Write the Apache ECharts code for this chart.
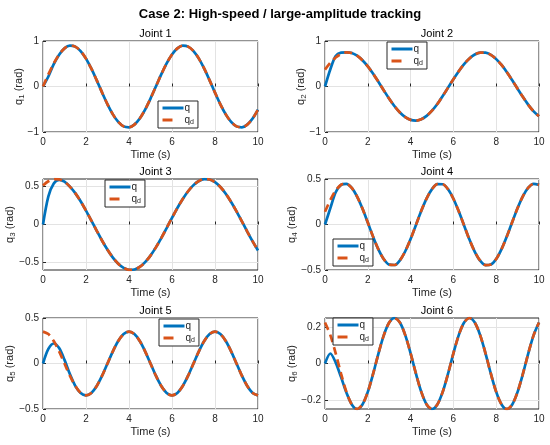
<!DOCTYPE html>
<html><head><meta charset="utf-8">
<script src="https://cdn.jsdelivr.net/npm/echarts@6/dist/echarts.min.js"></script>
<style>html,body{margin:0;padding:0;background:#fff}#c{width:550px;height:445px}</style>
</head><body><div id="c"></div>
<script>
// ---- data ----
const t = [0,0.25,0.5,0.75,1,1.25,1.5,1.75,2,2.25,2.5,2.75,3,3.25,3.5,3.75,4,4.25,4.5,4.75,5,5.25,5.5,5.75,6,6.25,6.5,6.75,7,7.25,7.5,7.75,8,8.25,8.5,8.75,9,9.25,9.5,9.75,10];

const qd1 = [0,0.265,0.507,0.704,0.838,0.897,0.877,0.779,0.612,0.391,0.134,-0.134,-0.391,-0.612,-0.779,-0.877,-0.897,-0.838,-0.704,-0.507,-0.265,0,0.265,0.507,0.704,0.838,0.897,0.877,0.779,0.612,0.391,0.134,-0.134,-0.391,-0.612,-0.779,-0.877,-0.897,-0.838,-0.704,-0.507];
const q1  = [0,0.22,0.49,0.70,0.838,0.897,0.877,0.779,0.612,0.391,0.134,-0.134,-0.391,-0.612,-0.779,-0.877,-0.897,-0.838,-0.704,-0.507,-0.265,0,0.265,0.507,0.704,0.838,0.897,0.877,0.779,0.612,0.391,0.134,-0.134,-0.391,-0.612,-0.779,-0.877,-0.897,-0.838,-0.704,-0.507];

const qd2 = [0.370,0.520,0.637,0.715,0.749,0.736,0.678,0.578,0.442,0.279,0.099,-0.087,-0.269,-0.434,-0.571,-0.672,-0.733,-0.749,-0.719,-0.645,-0.531,-0.385,-0.210,-0.025,0.161,0.337,0.492,0.616,0.703,0.746,0.743,0.694,0.602,0.473,0.314,0.136,-0.050,-0.233,-0.403,-0.547,-0.655];
const q2  = [0,0.38,0.67,0.745,0.752,0.738,0.678,0.578,0.442,0.279,0.099,-0.087,-0.269,-0.434,-0.571,-0.672,-0.733,-0.749,-0.719,-0.645,-0.531,-0.385,-0.210,-0.025,0.161,0.337,0.492,0.616,0.703,0.746,0.743,0.694,0.602,0.473,0.314,0.136,-0.050,-0.233,-0.403,-0.547,-0.655];

const qd3 = [0.515,0.570,0.598,0.595,0.562,0.500,0.414,0.306,0.183,0.051,-0.083,-0.214,-0.333,-0.436,-0.517,-0.572,-0.598,-0.594,-0.560,-0.497,-0.410,-0.302,-0.179,-0.047,0.088,0.218,0.337,0.439,0.519,0.573,0.598,0.593,0.558,0.495,0.406,0.297,0.174,0.041,-0.093,-0.223,-0.342];
const q3  = [0,0.37,0.54,0.588,0.565,0.500,0.414,0.306,0.183,0.051,-0.083,-0.214,-0.333,-0.436,-0.517,-0.572,-0.598,-0.594,-0.560,-0.497,-0.410,-0.302,-0.179,-0.047,0.088,0.218,0.337,0.439,0.519,0.573,0.598,0.593,0.558,0.495,0.406,0.297,0.174,0.041,-0.093,-0.223,-0.342];

const qd4 = [0.14,0.27,0.373,0.437,0.447,0.402,0.307,0.175,0.021,-0.136,-0.276,-0.382,-0.441,-0.445,-0.394,-0.294,-0.160,-0.005,0.151,0.288,0.389,0.444,0.442,0.387,0.283,0.145,-0.011,-0.166,-0.300,-0.398,-0.446,-0.439,-0.378,-0.270,-0.130,0.027,0.181,0.312,0.405,0.447,0.435];
const q4  = [0,0.18,0.355,0.435,0.447,0.402,0.307,0.175,0.021,-0.136,-0.276,-0.382,-0.441,-0.445,-0.394,-0.294,-0.160,-0.005,0.151,0.288,0.389,0.444,0.442,0.387,0.283,0.145,-0.011,-0.166,-0.300,-0.398,-0.446,-0.439,-0.378,-0.270,-0.130,0.027,0.181,0.312,0.405,0.447,0.435];

const qd5 = [0.35,0.323,0.247,0.134,0,-0.134,-0.247,-0.323,-0.35,-0.323,-0.247,-0.134,0,0.134,0.247,0.323,0.35,0.323,0.247,0.134,0,-0.134,-0.247,-0.323,-0.35,-0.323,-0.247,-0.134,0,0.134,0.247,0.323,0.35,0.323,0.247,0.134,0,-0.134,-0.247,-0.323,-0.35];
const q5  = [0,0.16,0.22,0.17,0.04,-0.115,-0.245,-0.323,-0.35,-0.323,-0.247,-0.134,0,0.134,0.247,0.323,0.35,0.323,0.247,0.134,0,-0.134,-0.247,-0.323,-0.35,-0.323,-0.247,-0.134,0,0.134,0.247,0.323,0.35,0.323,0.247,0.134,0,-0.134,-0.247,-0.323,-0.35];

const qd6 = [0.225,0.156,0.056,-0.056,-0.156,-0.225,-0.25,-0.225,-0.156,-0.056,0.056,0.156,0.225,0.25,0.225,0.156,0.056,-0.056,-0.156,-0.225,-0.25,-0.225,-0.156,-0.056,0.056,0.156,0.225,0.25,0.225,0.156,0.056,-0.056,-0.156,-0.225,-0.25,-0.225,-0.156,-0.056,0.056,0.156,0.225];
const q6  = [0,0.055,0.005,-0.075,-0.16,-0.225,-0.25,-0.225,-0.156,-0.056,0.056,0.156,0.225,0.25,0.225,0.156,0.056,-0.056,-0.156,-0.225,-0.25,-0.225,-0.156,-0.056,0.056,0.156,0.225,0.25,0.225,0.156,0.056,-0.056,-0.156,-0.225,-0.25,-0.225,-0.156,-0.056,0.056,0.156,0.225];

const jointTitles = ['Joint 1','Joint 2','Joint 3','Joint 4','Joint 5','Joint 6'];
const yMinVals = [-1,-1,-0.6,-0.5,-0.5,-0.25];
const yMaxVals = [1,1,0.6,0.5,0.5,0.25];
const yTickVals = [[-1,0,1],[-1,0,1],[-0.5,0,0.5],[-0.5,0,0.5],[-0.5,0,0.5],[-0.2,0,0.2]];
const mainTitle = 'Case 2: High-speed / large-amplitude tracking';

const qAll = [q1,q2,q3,q4,q5,q6];
const qdAll = [qd1,qd2,qd3,qd4,qd5,qd6];

// ---- layout ----
const FONT = '"Liberation Sans", Arial, Helvetica, sans-serif';
const TXT = '#262626';
const gridPos = [[43,41],[325,41],[43,179],[325,179],[43,318],[325,318]];
const gridW = [215,214];
const gridH = 91;
const yNameGaps = [17,17,26,26,26,26];
const legendPos = [[158,101],[387,42],[105,180],[333,239],[159,319],[333,318]];
const BLUE = '#0072BD', ORANGE = '#D95319';

const fmt = v => (Math.abs(v) < 1e-9 ? '0' : String(v).replace('-', '\u2212'));
const pairs = (xs, ys) => xs.map((x, i) => [x, ys[i]]);

const grids = [], xAxes = [], yAxes = [], series = [], legends = [];
const titles = [{
  text: mainTitle, left: 275, top: 3, textAlign: 'center',
  textStyle: {fontFamily: FONT, fontSize: 13, fontWeight: 'bold', color: '#000'}
}];

for (let i = 0; i < 6; i++) {
  const [gl, gt] = gridPos[i];
  const gw = gridW[i % 2];
  grids.push({left: gl, top: gt, width: gw, height: gridH, show: true,
    borderColor: TXT, borderWidth: 1, backgroundColor: '#fff', containLabel: false});
  titles.push({text: jointTitles[i], left: gl + gw / 2, top: gt - 18, textAlign: 'center',
    textStyle: {fontFamily: FONT, fontSize: 11, fontWeight: 'normal', color: '#000'}});
  xAxes.push({
    type: 'value', gridIndex: i, min: 0, max: 10, interval: 2,
    name: 'Time (s)', nameLocation: 'middle', nameGap: 17, nameMoveOverlap: false,
    nameTextStyle: {fontFamily: FONT, fontSize: 11, color: TXT},
    axisLine: {show: false},
    axisTick: {show: true, inside: true, length: 3, lineStyle: {color: TXT}},
    axisLabel: {fontFamily: FONT, fontSize: 10, color: TXT, margin: 5, formatter: fmt},
    splitLine: {show: true, lineStyle: {color: '#e3e3e3', width: 1}}
  });
  yAxes.push({
    type: 'value', gridIndex: i, min: yMinVals[i], max: yMaxVals[i],
    name: '{m|q}{s|' + (i + 1) + '}{m| (rad)}', nameLocation: 'middle', nameGap: yNameGaps[i], nameRotate: 90,
    nameMoveOverlap: false,
    nameTextStyle: {fontFamily: FONT, fontSize: 11, color: TXT,
      rich: {m: {fontFamily: FONT, fontSize: 11, color: TXT},
             s: {fontFamily: FONT, fontSize: 8, color: TXT, verticalAlign: 'bottom', padding: [6, 0, 0, 0]}}},
    axisLine: {show: false},
    axisTick: {show: true, inside: true, length: 3, lineStyle: {color: TXT}, customValues: yTickVals[i]},
    axisLabel: {fontFamily: FONT, fontSize: 10, color: TXT, margin: 4, formatter: fmt, customValues: yTickVals[i]},
    splitLine: {show: true, lineStyle: {color: '#e3e3e3', width: 1}}
  });
  series.push({
    type: 'line', name: 'q', xAxisIndex: i, yAxisIndex: i, data: pairs(t, qAll[i]),
    symbol: 'none', showSymbol: false, smooth: 0.3, z: 3,
    lineStyle: {color: BLUE, width: 2.7}, itemStyle: {color: BLUE}
  });
  series.push({
    type: 'line', name: 'q_d', xAxisIndex: i, yAxisIndex: i, data: pairs(t, qdAll[i]),
    symbol: 'none', showSymbol: false, smooth: 0.3, z: 4,
    lineStyle: {color: ORANGE, width: 2.7, type: [8, 5]}, itemStyle: {color: ORANGE}
  });
  legends.push({
    data: [
      {name: 'q', lineStyle: {color: BLUE, width: 3, type: 'solid'}},
      {name: 'q_d', lineStyle: {color: ORANGE, width: 3, type: [10, 12]}}
    ],
    left: legendPos[i][0], top: legendPos[i][1], orient: 'vertical',
    itemWidth: 21, itemHeight: 10, itemGap: 2, padding: [2, 4, 2, 3],
    itemStyle: {opacity: 0, borderWidth: 0},
    borderColor: TXT, borderWidth: 1, backgroundColor: '#fff', selectedMode: false, z: 10,
    textStyle: {fontFamily: FONT, fontSize: 10, color: TXT, padding: [0, 0, 0, -4],
      rich: {m: {fontFamily: FONT, fontSize: 10, color: TXT},
             s: {fontFamily: FONT, fontSize: 7, color: TXT, verticalAlign: 'bottom', padding: [5, 0, 0, 0]}}},
    formatter: n => n === 'q_d' ? '{m|q}{s|d}' : '{m|q}'
  });
}

const chart = echarts.init(document.getElementById('c'), null, {renderer: 'canvas'});
chart.setOption({
  animation: false, backgroundColor: '#fff',
  title: titles, grid: grids, xAxis: xAxes, yAxis: yAxes, series: series, legend: legends
});
</script></body></html>
